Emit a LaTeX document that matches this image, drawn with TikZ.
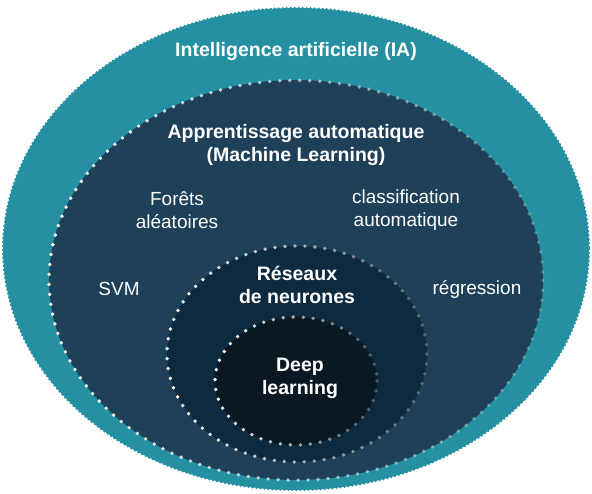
\documentclass[tikz,border=0pt]{standalone}
\usepackage{fontspec}
\setmainfont{Liberation Sans}
\usepackage{xcolor}
\usetikzlibrary{fadings}
\definecolor{AITeal}{RGB}{36,144,161}
\definecolor{MLBlue}{RGB}{30,64,89}
\definecolor{NNBlue}{RGB}{14,42,62}
\definecolor{DLBlack}{RGB}{10,24,33}
\tikzfading[name=ringfade,left color=transparent!0,middle color=transparent!10,
            right color=transparent!75]

\begin{document}
\begin{tikzpicture}[x=1pt,y=-1pt,
  dotring/.style={draw=white,line width=3.8pt,line cap=round,
                  dash pattern=on 0pt off 10pt,path fading=ringfade},
  ringlbl/.style={text=white,font=\fontsize{19.5}{23}\selectfont\bfseries,
                  align=center,inner sep=0pt},
  itemlbl/.style={text=white,font=\fontsize{19}{23}\selectfont,
                  align=center,inner sep=0pt},
]
\useasboundingbox (0,0) rectangle (592,494);
% nested ellipses, outer to inner
\fill[AITeal] (296,249) ellipse [x radius=293,y radius=241];
\draw[AITeal,line width=2.5pt,line cap=round,dash pattern=on 0pt off 4pt]
  (296,249) ellipse [x radius=293,y radius=241];
\fill[MLBlue] (296,280) ellipse [x radius=247,y radius=200];
\draw[dotring] (296,280) ellipse [x radius=247,y radius=200];
\fill[NNBlue] (297,354) ellipse [x radius=130,y radius=108];
\draw[dotring] (297,354) ellipse [x radius=130,y radius=108];
\fill[DLBlack] (296,381) ellipse [x radius=81,y radius=64];
\draw[dotring] (296,381) ellipse [x radius=81,y radius=64];

\node[ringlbl] (ia) at (296,52) {Intelligence artificielle (IA)};
\node[ringlbl] (ml) at (296,145) {Apprentissage automatique\\(Machine Learning)};
\node[itemlbl] (rf) at (177,210) {Forêts\\aléatoires};
\node[itemlbl] (clf) at (406,210) {classification\\automatique};
\node[itemlbl] (svm) at (119,289) {SVM};
\node[itemlbl] (reg) at (477,289) {régression};
\node[ringlbl] (nn) at (297,285) {Réseaux\\de neurones};
\node[ringlbl] (dl) at (300,378) {Deep\\learning};
\end{tikzpicture}
\end{document}
